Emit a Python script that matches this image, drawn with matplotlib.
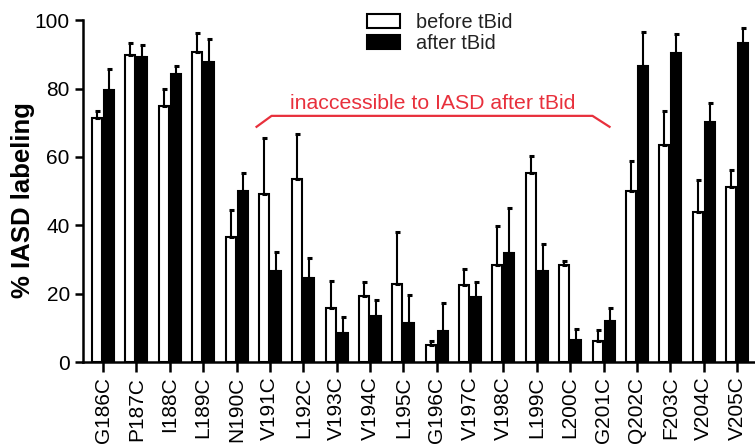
import matplotlib
matplotlib.use('Agg')
import matplotlib.pyplot as plt
import numpy as np
from matplotlib.patches import Patch

plt.rcParams.update({
    'font.family': ['Liberation Sans', 'DejaVu Sans'],
    'axes.linewidth': 1.8,
})

# ── 数据 ──
mutants = ['G186C', 'P187C', 'I188C', 'L189C', 'N190C', 'V191C', 'L192C',
           'V193C', 'V194C', 'L195C', 'G196C', 'V197C', 'V198C', 'L199C',
           'L200C', 'G201C', 'Q202C', 'F203C', 'V204C', 'V205C']
before_vals = [71.5, 89.8, 75.0, 90.8, 36.6, 49.2, 53.6, 15.8, 19.3, 22.7,
               4.9, 22.5, 28.3, 55.2, 28.3, 6.1, 49.9, 63.4, 43.9, 51.2]
before_tops = [73.4, 93.4, 79.9, 96.2, 44.4, 65.5, 66.7, 23.7, 23.5, 37.9,
               6.2, 27.2, 39.9, 60.3, 29.7, 9.4, 58.9, 73.5, 53.1, 56.1]
after_vals = [79.5, 89.1, 84.1, 87.7, 50.1, 26.5, 24.6, 8.4, 13.5, 11.5,
              9.0, 19.1, 31.8, 26.7, 6.6, 12.1, 86.7, 90.3, 70.3, 93.4]
after_tops = [85.6, 92.6, 86.5, 94.5, 55.2, 32.2, 30.4, 13.2, 18.1, 19.5,
              17.2, 23.5, 45.0, 34.4, 9.8, 15.8, 96.6, 95.9, 75.7, 97.7]
annot_text = 'inaccessible to IASD after tBid'

fig = plt.figure(figsize=(7.55, 4.47), dpi=100)
ax = fig.add_axes([0.110, 0.190, 0.890, 0.765])

x = np.arange(len(mutants))
w = 0.30
off = 0.18
bv = np.array(before_vals)
av = np.array(after_vals)
b_err = np.array(before_tops) - bv
a_err = np.array(after_tops) - av

ekw = dict(ecolor='black', elinewidth=1.5, capsize=1.8, capthick=2.2)
ax.bar(x - off, bv, w, color='white', edgecolor='black', linewidth=1.5,
       yerr=[np.zeros_like(bv), b_err], error_kw=ekw, label='before tBid')
ax.bar(x + off, av, w, color='black', edgecolor='black', linewidth=1.5,
       yerr=[np.zeros_like(av), a_err], error_kw=ekw, label='after tBid')

# ── 坐标轴 ──
ax.set_xlim(-0.6, 19.54)
ax.set_ylim(0, 100)
ax.set_yticks([0, 20, 40, 60, 80, 100])
ax.set_xticks(x)
ax.set_xticklabels(mutants, rotation=90)
ax.tick_params(axis='both', labelsize=15, width=1.8, color='black')
ax.tick_params(axis='x', length=7)
ax.tick_params(axis='y', length=6)
ax.set_ylabel('% IASD labeling', fontsize=18.5, fontweight='bold')
ax.yaxis.set_label_coords(-0.071, 0.474)
for s in ['top', 'right']:
    ax.spines[s].set_visible(False)

# ── 红色注释 ──
red = '#e8303c'
ax.plot([4.6, 5.05, 14.67, 15.18], [68.8, 72.0, 72.0, 68.8], color=red,
        lw=1.6, clip_on=False)
ax.text(9.87, 74.0, annot_text, color=red, fontsize=15.3, ha='center', va='baseline')

# ── 图例 ──
handles = [Patch(facecolor='white', edgecolor='black', linewidth=1.5),
           Patch(facecolor='black', edgecolor='black', linewidth=1.5)]
leg = ax.legend(handles, ['before tBid', 'after tBid'], loc='upper left',
                bbox_to_anchor=(367 / 755, 1 - 13 / 447), bbox_transform=fig.transFigure,
                frameon=False, fontsize=14.3, handlelength=1.65, handleheight=0.7,
                handletextpad=0.8, labelspacing=0.12, borderpad=0, borderaxespad=0)
for t in leg.get_texts():
    t.set_color('#222222')

fig.savefig('out.png', dpi=100)
